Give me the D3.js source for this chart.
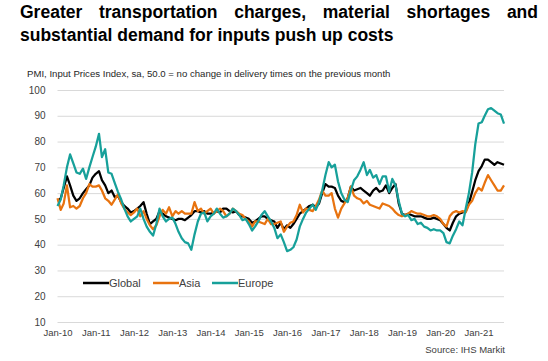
<!DOCTYPE html>
<html>
<head>
<meta charset="utf-8">
<script src="https://cdn.jsdelivr.net/npm/d3@7"></script>
<style>
  body { margin: 0; background: #fff; }
  svg { display: block; font-family: Arial, 'Liberation Sans', sans-serif; }
  .grid line { stroke: #d9d9d9; stroke-width: 1; }
  .grid path { display: none; }
  .axis path, .axis line { display: none; }
  .axis text { fill: #404040; }
</style>
</head>
<body>
<svg width="548" height="361"></svg>
<script>
// monthly readings, Jan 2010 - Sep 2021
var startMonth = new Date(2010, 0, 1);
var endMonth = new Date(2021, 8, 1);

var globalValues = [
  57, 58, 62, 66.5, 63, 59, 57, 58, 60, 61.5, 63, 66,
  67.5, 68.5, 65, 63, 60, 61, 58.5, 59, 56.5, 55, 54, 52.5,
  53, 54, 55, 56.5, 52, 48, 49, 50, 53, 52, 51, 50.5,
  50, 49.5, 50, 50, 49.5, 50.5, 51.5, 53, 53, 52.5, 53, 52,
  52, 52.5, 53, 52.5, 54, 54, 53, 52.5, 53, 51.5, 51, 50.5,
  50, 48.5, 49, 50, 51, 51, 50, 49.5, 49, 46.5, 48.5, 46,
  47.5, 46.5, 48, 50, 52, 53, 54, 55, 55.5, 54.5, 56, 60,
  63.5, 62.5, 62.5, 62, 59, 57, 56.5, 58, 62.5, 61, 61.5, 62,
  61, 60, 59, 61, 62, 60.5, 61, 63, 60, 62, 63.5, 56,
  52, 51.5, 52, 51.5, 51, 51, 51, 50.5, 50, 50, 50.5, 50,
  49.5, 48, 46.5, 45.5, 48.5, 51, 52, 52.5, 53, 56, 60.5, 65,
  68.5, 70.5, 73, 73, 72, 71, 72, 71.5, 71
];

var asiaValues = [
  58, 53.5, 56, 63, 54.5, 55, 54, 55, 58, 60, 63.5, 62.5,
  62.5, 63, 61, 58, 57, 55.5, 57.5, 59.5, 56, 54, 52.5, 51.5,
  52.5, 54, 51, 53, 50, 47.5, 46, 47.5, 51, 53.5, 52, 54.5,
  51, 53, 52, 53, 52, 52, 52, 56.5, 53, 54, 52, 53,
  54, 52, 53, 54, 53, 51, 52, 54, 53, 52, 51.5, 50,
  49, 47, 49, 49, 48.5, 48, 50, 48, 48, 48.5, 49, 45,
  47, 48.5, 49, 51.5, 55.5, 52.5, 54, 53.5, 53, 55, 57.5, 61,
  59, 59, 60, 54, 50.5, 54, 56, 58, 62.5, 59, 58, 57.5,
  56, 57, 55.5, 55, 54.5, 54, 56, 55.5, 55, 54, 52.5, 51.5,
  51, 51.5, 52, 53, 52.5, 52, 52, 51.5, 51, 51, 51.5, 51,
  50, 48, 47, 51, 52.5, 53, 52.5, 53, 52.5, 55.5, 57, 60,
  62, 61, 64, 67, 65, 63, 61, 61, 63
];

var europeValues = [
  55, 57.5, 63, 70, 75, 71.5, 68, 67.5, 69.5, 65.5, 70, 74,
  78, 83, 74, 77, 68, 67.5, 64, 60.5, 57.5, 54, 51, 49,
  50, 51, 54, 50, 47, 45, 43.5, 48, 54, 51, 49, 50,
  50.5, 48, 45, 42.5, 41, 40.5, 38, 44, 49, 52, 52.5, 49,
  51, 52, 54, 52, 50.5, 51, 52, 54, 53, 51.5, 49.5, 50,
  48, 45.5, 47, 49, 51.5, 53, 51, 49, 46.5, 42.5, 44, 41,
  37.5, 38, 39, 42, 47, 50, 52.5, 54, 55.5, 53.5, 56.5, 61,
  67, 72, 70, 71, 64.5, 60, 57.5, 56.5, 61, 65, 66.5, 69,
  72, 67, 69, 66, 67, 63.5, 66.5, 66.5, 60.5, 65.5, 63, 57,
  52, 51, 51.5, 49.5, 50, 48, 48.5, 47, 46.5, 45.5, 46, 45.5,
  45.5, 44.5, 41, 40.5, 43.5, 46, 49, 47.5, 54, 60, 68, 79,
  87, 87.5, 90, 92.5, 93, 92, 91, 90.5, 87
];

var seriesNames = ['Global', 'Asia', 'Europe'];
var seriesColors = ['#000000', '#e8730f', '#17a09a'];
var yTicks = [10, 20, 30, 40, 50, 60, 70, 80, 90, 100];

var titleLine1 = ['Greater', 'transportation', 'charges,', 'material', 'shortages', 'and'];
var titleLine2 = 'substantial demand for inputs push up costs';
var subtitle = 'PMI, Input Prices Index, sa, 50.0 = no change in delivery times on the previous month';
var sourceText = 'Source: IHS Markit';

var months = d3.timeMonth.range(startMonth, d3.timeMonth.offset(endMonth, 1));
var series = [globalValues, asiaValues, europeValues].map((vals, i) => ({
  name: seriesNames[i],
  color: seriesColors[i],
  points: vals.map((v, j) => ({ date: months[j], value: v }))
}));

var svg = d3.select('svg');

var plotLeft = 57.5, plotRight = 504, plotTop = 90, plotBottom = 322;

var xScale = d3.scaleTime()
  .domain([startMonth, endMonth])
  .range([plotLeft, plotRight]);

var yScale = d3.scaleLinear()
  .domain([10, 100])
  .range([plotBottom, plotTop]);

// title, first line justified between x=20 and x=538
var titleLeft = 20, titleRight = 538;
var t1 = svg.append('g')
  .attr('font-size', '17.5px')
  .attr('font-weight', 'bold')
  .attr('fill', '#000');
var words = t1.selectAll('text')
  .data(titleLine1)
  .enter()
  .append('text')
  .attr('y', 18)
  .text(d => d);
var widths = words.nodes().map(n => n.getComputedTextLength());
var gap = (titleRight - titleLeft - d3.sum(widths)) / (titleLine1.length - 1);
var starts = [];
widths.reduce((x, w) => { starts.push(x); return x + w + gap; }, titleLeft);
words.attr('x', (d, i) => starts[i]);

svg.append('text')
  .attr('x', titleLeft)
  .attr('y', 41)
  .attr('font-size', '17.5px')
  .attr('font-weight', 'bold')
  .text(titleLine2);

svg.append('text')
  .attr('x', 27)
  .attr('y', 77)
  .attr('font-size', '9.6px')
  .attr('fill', '#262626')
  .text(subtitle);

// gridlines
svg.append('g')
  .attr('class', 'grid')
  .attr('transform', `translate(${plotLeft}, 0)`)
  .call(d3.axisLeft(yScale)
    .tickValues(yTicks)
    .tickSize(-(plotRight - plotLeft))
    .tickFormat('')
  );

svg.append('g')
  .attr('class', 'axis')
  .attr('transform', `translate(${plotLeft - 12}, 0)`)
  .call(d3.axisLeft(yScale).tickValues(yTicks).tickSize(0).tickPadding(0))
  .selectAll('text')
  .attr('font-size', '10px');

svg.append('g')
  .attr('class', 'axis')
  .attr('transform', `translate(0, ${plotBottom + 5})`)
  .call(d3.axisBottom(xScale)
    .ticks(d3.timeYear.every(1))
    .tickFormat(d3.timeFormat('%b-%y'))
    .tickSize(0)
    .tickPadding(0))
  .selectAll('text')
  .attr('font-size', '9.5px')
  .attr('dy', '0.9em');

var line = d3.line()
  .x(d => xScale(d.date))
  .y(d => yScale(d.value));

svg.selectAll('.series')
  .data(series)
  .enter()
  .append('path')
  .attr('class', 'series')
  .attr('fill', 'none')
  .attr('stroke', d => d.color)
  .attr('stroke-width', 2.25)
  .attr('stroke-linejoin', 'round')
  .attr('d', d => line(d.points));

// legend
var legendX = [83, 153, 212];
var legend = svg.selectAll('.legend')
  .data(series)
  .enter()
  .append('g')
  .attr('class', 'legend')
  .attr('transform', (d, i) => `translate(${legendX[i]}, 283)`);

legend.append('line')
  .attr('x1', 0)
  .attr('x2', 26)
  .attr('stroke', d => d.color)
  .attr('stroke-width', 2.5);

legend.append('text')
  .attr('x', 26)
  .attr('dy', '0.35em')
  .attr('font-size', '11px')
  .attr('fill', '#404040')
  .text(d => d.name);

svg.append('text')
  .attr('x', 505)
  .attr('y', 353)
  .attr('text-anchor', 'end')
  .attr('font-size', '9.5px')
  .attr('fill', '#404040')
  .text(sourceText);
</script>
</body>
</html>
